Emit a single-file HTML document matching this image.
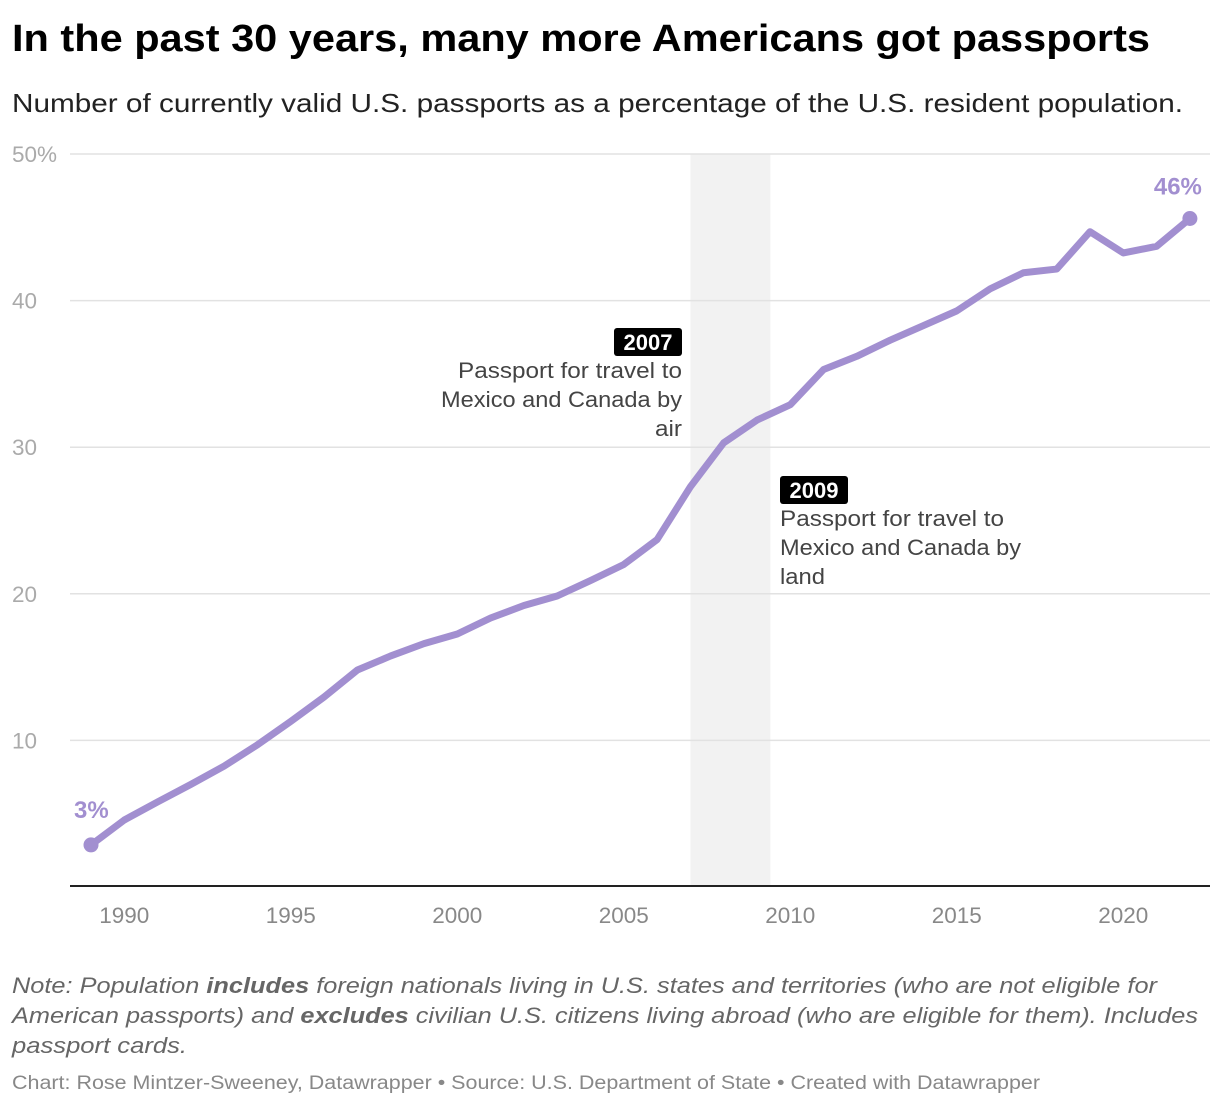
<!DOCTYPE html>
<html><head><meta charset="utf-8"><style>
body{margin:0;background:#fff;width:1220px;height:1106px;overflow:hidden;font-family:"Liberation Sans",sans-serif;}
</style></head><body>
<svg width="1220" height="1106" xmlns="http://www.w3.org/2000/svg" font-family="Liberation Sans, sans-serif" id="svg">
<text x="12" y="51" font-size="38" font-weight="bold" fill="#000" textLength="1138" lengthAdjust="spacingAndGlyphs">In the past 30 years, many more Americans got passports</text>
<text x="12" y="112" font-size="26" fill="#222" textLength="1171" lengthAdjust="spacingAndGlyphs">Number of currently valid U.S. passports as a percentage of the U.S. resident population.</text>
<g id="plot"></g>
<g font-size="22.5" font-style="italic" fill="#666">
<text x="12" y="993" textLength="1145" lengthAdjust="spacingAndGlyphs">Note: Population <tspan font-weight="bold">includes</tspan> foreign nationals living in U.S. states and territories (who are not eligible for</text>
<text x="12" y="1023" textLength="1186" lengthAdjust="spacingAndGlyphs">American passports) and <tspan font-weight="bold">excludes</tspan> civilian U.S. citizens living abroad (who are eligible for them). Includes</text>
<text x="12" y="1053" textLength="175" lengthAdjust="spacingAndGlyphs">passport cards.</text>
</g>
<text x="12" y="1089" font-size="19" fill="#888" textLength="1028" lengthAdjust="spacingAndGlyphs">Chart: Rose Mintzer-Sweeney, Datawrapper • Source: U.S. Department of State • Created with Datawrapper</text>
</svg>
<script>
const years=[1989,1990,1991,1992,1993,1994,1995,1996,1997,1998,1999,2000,2001,2002,2003,2004,2005,2006,2007,2008,2009,2010,2011,2012,2013,2014,2015,2016,2017,2018,2019,2020,2021,2022];
const values=[2.87,4.57,5.8,7.0,8.25,9.7,11.3,12.96,14.8,15.76,16.6,17.26,18.35,19.2,19.85,20.9,22.0,23.7,27.3,30.3,31.85,32.9,35.3,36.2,37.3,38.3,39.3,40.8,41.9,42.15,44.7,43.25,43.7,45.6];
const yTicks=[10,20,30,40,50];
const xTicks=[1990,1995,2000,2005,2010,2015,2020];
const shade=[2007,2009.4];
const NS="http://www.w3.org/2000/svg";
const X=y=>91+(y-1989)*33.3;
const Y=v=>887-v*14.66;
const g=document.getElementById('plot');
function mk(t,a,p){const e=document.createElementNS(NS,t);for(const k in a)e.setAttribute(k,a[k]);(p||g).appendChild(e);return e;}
const sh=mk('rect',{x:X(shade[0]),y:Y(50),width:X(shade[1])-X(shade[0]),height:Y(0)-Y(50),fill:'#f2f2f2'});


yTicks.forEach(v=>{
 const l=mk('line',{x1:70,x2:1210,y1:Y(v),y2:Y(v),stroke:'#e2e2e2','stroke-width':1.5});
 
 
 const t=mk('text',{x:12,y:Y(v)+8,'font-size':22.5,fill:'#aaa'});
 t.textContent=v===50?'50%':v;
 
 
});
const base=mk('line',{x1:70,x2:1210,y1:886,y2:886,stroke:'#222','stroke-width':2});


xTicks.forEach(y=>{
 const t=mk('text',{x:X(y),y:923,'font-size':22.5,fill:'#888','text-anchor':'middle'});
 t.textContent=y;
 
 
});
const path=mk('path',{d:years.map((y,i)=>(i?'L':'M')+X(y)+','+Y(values[i])).join(''),fill:'none',stroke:'#a28fd0','stroke-width':7,'stroke-linejoin':'round'});


[0,years.length-1].forEach(i=>{
 const c=mk('circle',{cx:X(years[i]),cy:Y(values[i]),r:7.5,fill:'#a28fd0'});
 
 
 const t=mk('text',{x:X(years[i]),y:Y(values[i])-(i?24:27),'font-size':24,'font-weight':'bold',fill:'#a28fd0','text-anchor':i?'end':'start'});
 if(i){t.setAttribute('x',X(years[i])+12);} else {t.setAttribute('x',X(years[i])-17);}
 t.textContent=Math.round(values[i])+'%';
 
 
});
function ann(x,y,yr,lines,lens,anchor,name){
 const a=mk('g',{});
 
 
 const bx=anchor==='end'?x-68:x;
 mk('rect',{x:bx,y:y-14,width:68,height:28,rx:3,fill:'#000'},a);
 const yt=mk('text',{x:bx+34,y:y+8,'font-size':22,'font-weight':'bold',fill:'#fff','text-anchor':'middle'},a);
 yt.textContent=yr;
 lines.forEach((s,i)=>{const t=mk('text',{x:x,y:y+36+i*29,'font-size':22,fill:'#444','text-anchor':anchor,textLength:lens[i],lengthAdjust:'spacingAndGlyphs'},a);t.textContent=s;});
}
ann(682,342,'2007',['Passport for travel to','Mexico and Canada by','air'],[224,241,27],'end','annotation-2007');
ann(780,490,'2009',['Passport for travel to','Mexico and Canada by','land'],[224,241,45],'start','annotation-2009');
</script>
</body></html>
